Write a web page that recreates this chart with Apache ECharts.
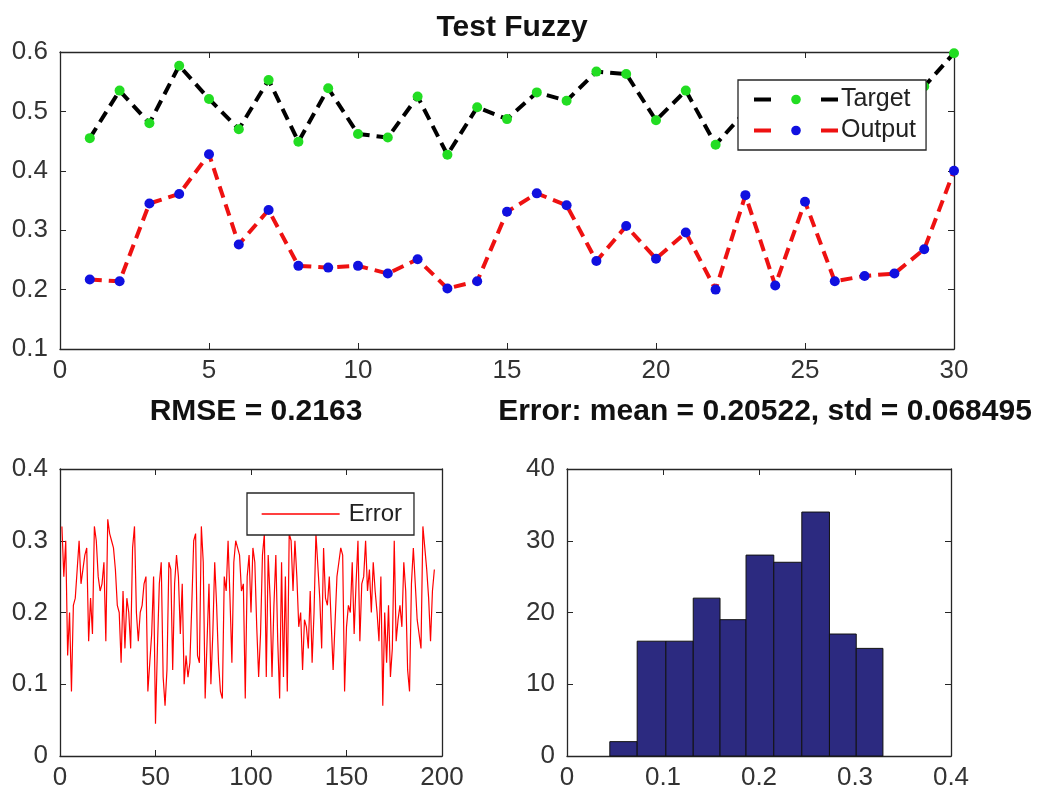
<!DOCTYPE html>
<html>
<head>
<meta charset="utf-8">
<script src="https://cdn.jsdelivr.net/npm/echarts@6/dist/echarts.min.js"></script>
<style>
html,body{margin:0;padding:0;background:#fff;}
#chart{width:1039px;height:796px;}
</style>
</head>
<body>
<div id="chart"></div>
<script>
// ---------- data ----------
const sampleIndex = [1,2,3,4,5,6,7,8,9,10,11,12,13,14,15,16,17,18,19,20,21,22,23,24,25,26,27,28,29,30];
const targetValues = [0.455,0.535,0.480,0.577,0.521,0.470,0.553,0.449,0.539,0.462,
                      0.456,0.525,0.427,0.507,0.487,0.532,0.518,0.567,0.563,0.485,
                      0.535,0.444,0.500,0.530,0.480,0.520,0.460,0.510,0.542,0.598];
const outputValues = [0.217,0.214,0.345,0.361,0.428,0.276,0.334,0.240,0.237,0.240,
                      0.227,0.251,0.202,0.214,0.331,0.362,0.342,0.248,0.307,0.252,
                      0.296,0.200,0.359,0.207,0.348,0.214,0.223,0.227,0.268,0.400];
const errorValues = [
 0.32,0.25,0.30,0.14,0.20,0.09,0.21,0.22,0.26,0.30,
 0.24,0.26,0.28,0.29,0.16,0.22,0.17,0.32,0.30,0.25,
 0.23,0.24,0.27,0.16,0.33,0.31,0.30,0.29,0.26,0.21,
 0.20,0.13,0.23,0.15,0.22,0.20,0.15,0.29,0.32,0.20,
 0.16,0.20,0.21,0.24,0.25,0.09,0.13,0.17,0.25,0.045,
 0.15,0.24,0.27,0.11,0.07,0.12,0.27,0.26,0.12,0.24,
 0.28,0.25,0.17,0.24,0.10,0.14,0.11,0.13,0.21,0.30,
 0.31,0.14,0.13,0.32,0.27,0.08,0.16,0.24,0.10,0.17,
 0.27,0.21,0.13,0.09,0.08,0.25,0.23,0.30,0.22,0.13,
 0.27,0.30,0.29,0.28,0.23,0.24,0.08,0.25,0.28,0.20,
 0.29,0.27,0.18,0.11,0.17,0.28,0.31,0.11,0.28,0.22,
 0.11,0.21,0.28,0.16,0.08,0.27,0.11,0.25,0.09,0.31,
 0.30,0.23,0.30,0.25,0.18,0.20,0.12,0.19,0.18,0.15,
 0.23,0.13,0.20,0.31,0.31,0.22,0.15,0.29,0.22,0.21,
 0.25,0.25,0.12,0.12,0.25,0.27,0.29,0.28,0.09,0.18,
 0.21,0.20,0.27,0.17,0.24,0.30,0.16,0.24,0.25,0.30,
 0.23,0.26,0.20,0.27,0.23,0.20,0.16,0.25,0.07,0.20,
 0.13,0.21,0.11,0.15,0.30,0.16,0.19,0.21,0.18,0.27,
 0.23,0.12,0.09,0.24,0.29,0.24,0.19,0.19,0.15,0.32,
 0.29,0.26,0.22,0.16,0.23,0.26];
const histBinEdges = [0.0446,0.0731,0.1030,0.1315,0.1594,0.1865,0.2154,0.2446,0.2734,0.3013,0.3291];
const histCounts = [2,16,16,22,19,28,27,34,17,15];
const titleTop = 'Test Fuzzy';
const titleRmse = 'RMSE = 0.2163';
const titleHist = 'Error: mean = 0.20522, std = 0.068495';

// ---------- chart ----------
const FONT = 'Liberation Sans, Arial, Helvetica, sans-serif';
const TXT = '#333333';
const tickFont = 26;

function mainAxis(type, gridIndex, min, max, interval, position) {
  return {
    type: 'value', gridIndex, min, max, interval, position,
    axisLine: {show: true, onZero: false, lineStyle: {color: '#262626', width: 1.3}},
    axisTick: {show: true, inside: true, length: 6, lineStyle: {color: '#262626'}},
    axisLabel: {show: true, color: TXT, fontSize: tickFont, fontFamily: FONT,
                margin: type === 'x' ? 9 : 12},
    splitLine: {show: false}
  };
}
function mirrorAxis(gridIndex, min, max, interval, position) {
  return {
    type: 'value', gridIndex, min, max, interval, position,
    axisLine: {show: true, onZero: false, lineStyle: {color: '#262626', width: 1.3}},
    axisTick: {show: true, inside: true, length: 6, lineStyle: {color: '#262626'}},
    axisLabel: {show: false}, splitLine: {show: false}
  };
}

const grids = [
  {left: 60, top: 52, width: 894, height: 297},
  {left: 60, top: 469, width: 382, height: 287},
  {left: 567, top: 469, width: 384, height: 287}
];
const titleStyle = {fontSize: 30, fontWeight: 'bold', color: '#111', fontFamily: FONT};

const option = {
  backgroundColor: '#ffffff',
  animation: false,
  title: [
    {text: titleTop, left: 507, top: 8, textAlign: 'center', textStyle: titleStyle},
    {text: titleRmse, left: 251, top: 392, textAlign: 'center', textStyle: titleStyle},
    {text: titleHist, left: 760, top: 392, textAlign: 'center', textStyle: titleStyle}
  ],
  grid: grids.map(g => Object.assign({containLabel: false}, g)),
  xAxis: [
    mainAxis('x', 0, 0, 30, 5, 'bottom'),
    mirrorAxis(0, 0, 30, 5, 'top'),
    mainAxis('x', 1, 0, 200, 50, 'bottom'),
    mirrorAxis(1, 0, 200, 50, 'top'),
    mainAxis('x', 2, 0, 0.4, 0.1, 'bottom'),
    mirrorAxis(2, 0, 0.4, 0.1, 'top')
  ],
  yAxis: [
    mainAxis('y', 0, 0.1, 0.6, 0.1, 'left'),
    mirrorAxis(0, 0.1, 0.6, 0.1, 'right'),
    mainAxis('y', 1, 0, 0.4, 0.1, 'left'),
    mirrorAxis(1, 0, 0.4, 0.1, 'right'),
    mainAxis('y', 2, 0, 40, 10, 'left'),
    mirrorAxis(2, 0, 40, 10, 'right')
  ],
  legend: [
    {
      data: ['Target', 'Output'], orient: 'vertical', left: 738, top: 80,
      itemWidth: 84, itemHeight: 12, itemGap: 6,
      padding: [7, 10, 7, 14], backgroundColor: '#fff',
      borderColor: '#262626', borderWidth: 1.3,
      lineStyle: {width: 4, type: [17, 50]},
      textStyle: {fontSize: 25, color: '#222', fontFamily: FONT, padding: [0, 0, 0, -2]},
      selectedMode: false
    },
    {
      data: ['Error'], orient: 'vertical', left: 247, top: 493,
      itemWidth: 78, itemHeight: 10, itemGap: 4,
      padding: [9, 12, 9, 14], backgroundColor: '#fff',
      borderColor: '#262626', borderWidth: 1.3,
      itemStyle: {color: 'rgba(0,0,0,0)', borderWidth: 0},
      lineStyle: {width: 1.3},
      textStyle: {fontSize: 24, color: '#222', fontFamily: FONT, padding: [0, 0, 0, 4]},
      selectedMode: false
    }
  ],
  series: [
    {
      name: 'Target', type: 'line', xAxisIndex: 0, yAxisIndex: 0,
      data: sampleIndex.map((x, i) => [x, targetValues[i]]),
      symbol: 'circle', symbolSize: 10, showSymbol: true,
      lineStyle: {color: '#000', width: 4, type: [12, 7]},
      itemStyle: {color: '#22dd22', borderWidth: 0},
      z: 2
    },
    {
      name: 'Output', type: 'line', xAxisIndex: 0, yAxisIndex: 0,
      data: sampleIndex.map((x, i) => [x, outputValues[i]]),
      symbol: 'circle', symbolSize: 10, showSymbol: true,
      lineStyle: {color: '#ee1111', width: 4, type: [12, 7]},
      itemStyle: {color: '#1010e0', borderWidth: 0},
      z: 2
    },
    {
      name: 'Error', type: 'line', xAxisIndex: 2, yAxisIndex: 2,
      data: errorValues.map((v, i) => [i + 1, v]),
      showSymbol: false, symbol: 'none',
      lineStyle: {color: '#ff0000', width: 1.2},
      itemStyle: {color: '#ff0000'}
    },
    {
      name: 'Histogram', type: 'custom', xAxisIndex: 4, yAxisIndex: 4,
      data: histCounts.map((c, i) => [histBinEdges[i], histBinEdges[i + 1], c]),
      renderItem: function (params, api) {
        const p0 = api.coord([api.value(0), 0]);
        const p1 = api.coord([api.value(1), api.value(2)]);
        return {
          type: 'rect',
          shape: {x: p0[0], y: p1[1], width: p1[0] - p0[0], height: p0[1] - p1[1]},
          style: {fill: '#2c2a80', stroke: '#111', lineWidth: 1}
        };
      },
      encode: {x: [0, 1], y: 2}
    }
  ]
};

const chart = echarts.init(document.getElementById('chart'), null, {renderer: 'canvas'});
chart.setOption(option);
</script>
</body>
</html>
